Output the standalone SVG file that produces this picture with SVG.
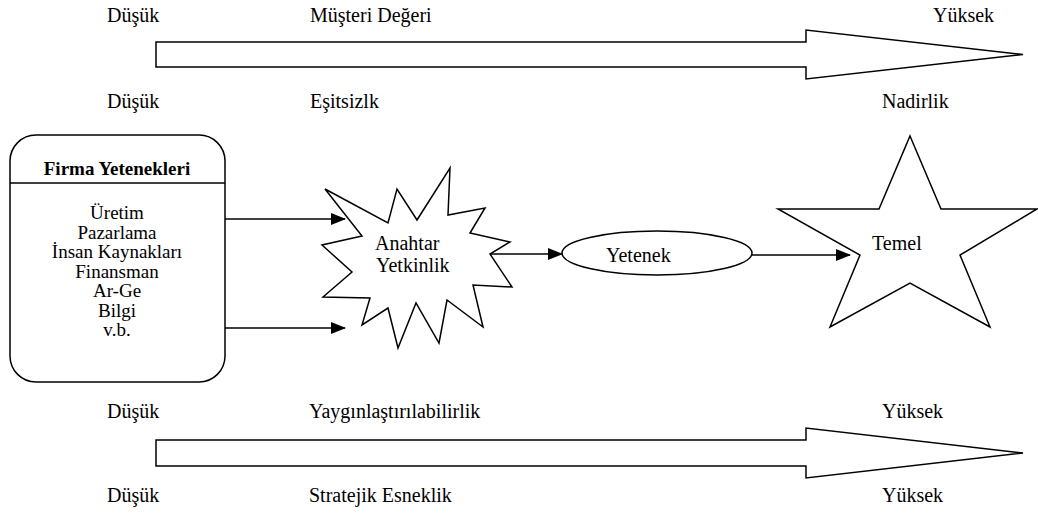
<svg xmlns="http://www.w3.org/2000/svg" width="1038" height="513" viewBox="0 0 1038 513">
<style>
text{font-family:"Liberation Serif","Times New Roman",serif;font-size:20px;fill:#000}
.b{font-weight:bold;font-size:19px}
.bx{font-size:19px}
.s{fill:#fff;stroke:#000;stroke-width:1.5;stroke-linejoin:miter}
.c{stroke:#000;stroke-width:1.5;fill:none}
.m{text-anchor:middle}
</style>
<defs>
<marker id="ah" markerWidth="15" markerHeight="12" refX="14" refY="6" orient="auto" markerUnits="userSpaceOnUse">
<path d="M0,0 L15,6 L0,12 Z" fill="#000"/>
</marker>
</defs>
<g id="scale-top">
<polygon class="s" points="156,42 806,42 806,30 1023,54.5 806,79 806,67 156,67"/>
<text x="107" y="22">Düşük</text>
<text x="310" y="22">Müşteri Değeri</text>
<text x="933" y="22">Yüksek</text>
<text x="107" y="108">Düşük</text>
<text x="310" y="108">Eşitsizlk</text>
<text x="882" y="108">Nadirlik</text>
</g>
<g id="scale-bottom">
<polygon class="s" points="156,440 806,440 806,428 1023,453 806,478 806,466 156,466"/>
<text x="107" y="418">Düşük</text>
<text x="309" y="418">Yaygınlaştırılabilirlik</text>
<text x="882" y="418">Yüksek</text>
<text x="107" y="502">Düşük</text>
<text x="309" y="502">Stratejik Esneklik</text>
<text x="882" y="502">Yüksek</text>
</g>
<g id="firma">
<rect class="s" x="10" y="135" width="215" height="247" rx="26" ry="26"/>
<line class="c" x1="10" y1="183" x2="225" y2="183"/>
<text class="b m" x="117" y="175">Firma Yetenekleri</text>
<text class="m bx" x="117" y="219">Üretim</text>
<text class="m bx" x="117" y="238.5">Pazarlama</text>
<text class="m bx" x="117" y="258">İnsan Kaynakları</text>
<text class="m bx" x="117" y="277.5">Finansman</text>
<text class="m bx" x="117" y="297">Ar-Ge</text>
<text class="m bx" x="117" y="316.5">Bilgi</text>
<text class="m bx" x="117" y="336">v.b.</text>
</g>
<g id="anahtar">
<polygon class="s" points="325,189 388,223 397,189 417,220 450,168 448,215 485,208 470,233 510,242 490,254 512,287 473,285 483,327 447,300 439,343 416,303 398,348 388,308 362,325 370,298 323,297 352,272 322,245 362,236"/>
<text x="375" y="250">Anahtar</text>
<text x="376" y="272">Yetkinlik</text>
</g>
<g id="yetenek">
<ellipse class="s" cx="657" cy="253" rx="95" ry="22"/>
<text x="606" y="262">Yetenek</text>
</g>
<g id="temel">
<polygon class="s" points="910,136 941,209 1037,209 960,255 990,327 910,283 830,327 860,255 778,209 879,209"/>
<text x="872" y="250">Temel</text>
</g>
<g id="connectors">
<line class="c" x1="225" y1="219" x2="345" y2="219" marker-end="url(#ah)"/>
<line class="c" x1="225" y1="328" x2="345" y2="328" marker-end="url(#ah)"/>
<line class="c" x1="490" y1="254" x2="562" y2="254" marker-end="url(#ah)"/>
<line class="c" x1="752" y1="255" x2="850" y2="255" marker-end="url(#ah)"/>
</g>
</svg>
